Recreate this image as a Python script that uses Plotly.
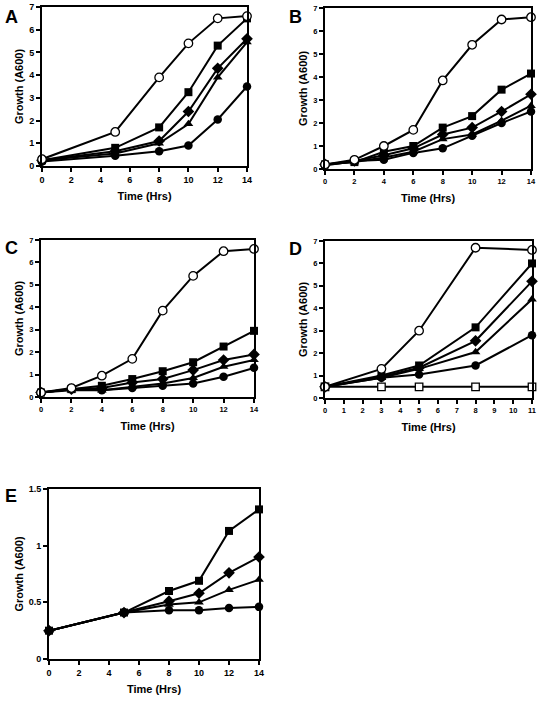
import plotly.graph_objects as go

W, H = 538, 703

# ---------------- data ----------------
a_x = [0, 5, 8, 10, 12, 14]
a_open_circle = [0.3, 1.5, 3.9, 5.4, 6.5, 6.6]
a_square = [0.25, 0.8, 1.7, 3.25, 5.3, 6.5]
a_diamond = [0.25, 0.65, 1.1, 2.4, 4.3, 5.6]
a_triangle = [0.25, 0.55, 1.0, 1.85, 3.9, 5.45]
a_circle = [0.2, 0.45, 0.65, 0.9, 2.05, 3.5]

b_x = [0, 2, 4, 6, 8, 10, 12, 14]
b_open_circle = [0.2, 0.4, 1.0, 1.7, 3.85, 5.4, 6.5, 6.6]
b_square = [0.2, 0.3, 0.75, 1.0, 1.8, 2.3, 3.45, 4.15]
b_diamond = [0.2, 0.35, 0.6, 0.9, 1.5, 1.8, 2.5, 3.25]
b_triangle = [0.2, 0.3, 0.5, 0.75, 1.3, 1.5, 2.1, 2.75]
b_circle = [0.15, 0.35, 0.4, 0.7, 0.9, 1.45, 2.0, 2.5]

c_x = [0, 2, 4, 6, 8, 10, 12, 14]
c_open_circle = [0.2, 0.4, 0.95, 1.7, 3.85, 5.4, 6.5, 6.6]
c_square = [0.2, 0.35, 0.5, 0.8, 1.15, 1.55, 2.25, 2.95]
c_diamond = [0.2, 0.35, 0.4, 0.65, 0.8, 1.2, 1.65, 1.9]
c_triangle = [0.2, 0.3, 0.3, 0.45, 0.6, 0.85, 1.35, 1.65]
c_circle = [0.2, 0.35, 0.3, 0.4, 0.5, 0.6, 0.9, 1.3]

d_x = [0, 3, 5, 8, 11]
d_open_circle = [0.5, 1.3, 3.0, 6.7, 6.6]
d_square = [0.5, 1.0, 1.45, 3.15, 6.0]
d_diamond = [0.5, 0.95, 1.35, 2.55, 5.2]
d_triangle = [0.5, 0.9, 1.3, 2.05, 4.4]
d_circle = [0.5, 0.9, 1.05, 1.45, 2.8]
d_open_square = [0.5, 0.5, 0.5, 0.5, 0.5]

e_x = [0, 5, 8, 10, 12, 14]
e_square = [0.25, 0.41, 0.6, 0.69, 1.13, 1.32]
e_diamond = [0.25, 0.41, 0.51, 0.58, 0.76, 0.9]
e_triangle = [0.25, 0.41, 0.48, 0.5, 0.61, 0.7]
e_circle = [0.25, 0.41, 0.43, 0.43, 0.45, 0.46]

panel_labels = ["A", "B", "C", "D", "E"]
x_title = "Time (Hrs)"
y_title = "Growth (A600)"
FONT = "Liberation Sans, Arial, sans-serif"

# ---------------- layout helpers ----------------
# plot area boxes in pixels: (x0, x1, ytop, ybottom)
boxes = {
    "A": (42, 247, 7, 166),
    "B": (325, 531, 8, 169),
    "C": (41, 254, 240, 397),
    "D": (325, 532, 241, 398),
    "E": (49, 259, 489, 659),
}

fig = go.Figure()

def style(sym):
    if sym == "circle-open":
        return dict(symbol="circle", color="white", size=8.5, line=dict(color="black", width=1.3))
    if sym == "square-open":
        return dict(symbol="square", color="white", size=7.5, line=dict(color="black", width=1.3))
    sizes = {"circle": 8.5, "square": 8, "diamond": 9, "triangle-up": 8.5}
    return dict(symbol=sym, color="black", size=sizes[sym], line=dict(color="black", width=0))

def add(idx, x, y, sym):
    xa = "x" if idx == 1 else f"x{idx}"
    ya = "y" if idx == 1 else f"y{idx}"
    fig.add_trace(go.Scatter(x=x, y=y, mode="lines+markers", xaxis=xa, yaxis=ya,
                             line=dict(color="black", width=2), marker=style(sym),
                             cliponaxis=False, showlegend=False, hoverinfo="skip"))

add(1, a_x, a_circle, "circle")
add(1, a_x, a_triangle, "triangle-up")
add(1, a_x, a_diamond, "diamond")
add(1, a_x, a_square, "square")
add(1, a_x, a_open_circle, "circle-open")

add(2, b_x, b_circle, "circle")
add(2, b_x, b_triangle, "triangle-up")
add(2, b_x, b_diamond, "diamond")
add(2, b_x, b_square, "square")
add(2, b_x, b_open_circle, "circle-open")

add(3, c_x, c_circle, "circle")
add(3, c_x, c_triangle, "triangle-up")
add(3, c_x, c_diamond, "diamond")
add(3, c_x, c_square, "square")
add(3, c_x, c_open_circle, "circle-open")

add(4, d_x, d_circle, "circle")
add(4, d_x, d_triangle, "triangle-up")
add(4, d_x, d_diamond, "diamond")
add(4, d_x, d_square, "square")
add(4, d_x, d_open_square, "square-open")
add(4, d_x, d_open_circle, "circle-open")

add(5, e_x, e_circle, "circle")
add(5, e_x, e_triangle, "triangle-up")
add(5, e_x, e_diamond, "diamond")
add(5, e_x, e_square, "square")

axis_cfg = {
    "A": dict(xr=[0, 14], xd=2, yr=[0, 7], yd=1, fs=9),
    "B": dict(xr=[0, 14], xd=2, yr=[0, 7], yd=1, fs=7.5),
    "C": dict(xr=[0, 14], xd=2, yr=[0, 7], yd=1, fs=7.5),
    "D": dict(xr=[0, 11], xd=1, yr=[0, 7], yd=1, fs=7.5),
    "E": dict(xr=[0, 14], xd=2, yr=[0, 1.5], yd=0.5, fs=9),
}

layout = dict(width=W, height=H, margin=dict(l=0, r=0, t=0, b=0, pad=0, autoexpand=False),
              autosize=False,
              paper_bgcolor="white", plot_bgcolor="white",
              font=dict(family=FONT, color="black"))
annotations = []
for i, lab in enumerate(panel_labels, start=1):
    x0, x1, yt, yb = boxes[lab]
    c = axis_cfg[lab]
    common = dict(showline=True, linecolor="black", linewidth=2, mirror=True,
                  ticks="outside", ticklen=4, tickwidth=1.5, tickcolor="black",
                  showgrid=False, zeroline=False, automargin=False,
                  tickfont=dict(family=FONT, size=c["fs"], color="black", weight="bold"))
    xk = "xaxis" if i == 1 else f"xaxis{i}"
    yk = "yaxis" if i == 1 else f"yaxis{i}"
    ya = "y" if i == 1 else f"y{i}"
    xa = "x" if i == 1 else f"x{i}"
    layout[xk] = dict(domain=[x0 / W, x1 / W], range=c["xr"], dtick=c["xd"], tick0=0,
                      anchor=ya,
                      title=dict(text=x_title, standoff=9,
                                 font=dict(family=FONT, size=11, color="black", weight="bold")),
                      **common)
    layout[yk] = dict(domain=[1 - yb / H, 1 - yt / H], range=c["yr"], dtick=c["yd"], tick0=0,
                      anchor=xa,
                      title=dict(text=y_title, standoff=3,
                                 font=dict(family=FONT, size=11, color="black", weight="bold")),
                      **common)

letter_pos = {"A": (3, 5), "B": (287, 5), "C": (3, 236), "D": (287, 237), "E": (3, 484)}
for lab in panel_labels:
    px, py = letter_pos[lab]
    annotations.append(dict(text=f"<b>{lab}</b>", x=px / W, y=1 - py / H, xref="paper", yref="paper",
                            xanchor="left", yanchor="top", showarrow=False,
                            font=dict(family=FONT, size=18, color="black")))
layout["annotations"] = annotations
fig.update_layout(**layout)

fig.write_html("out.html", config={"displayModeBar": False},
               post_script="document.body.style.margin='0';document.body.style.overflow='hidden';")
